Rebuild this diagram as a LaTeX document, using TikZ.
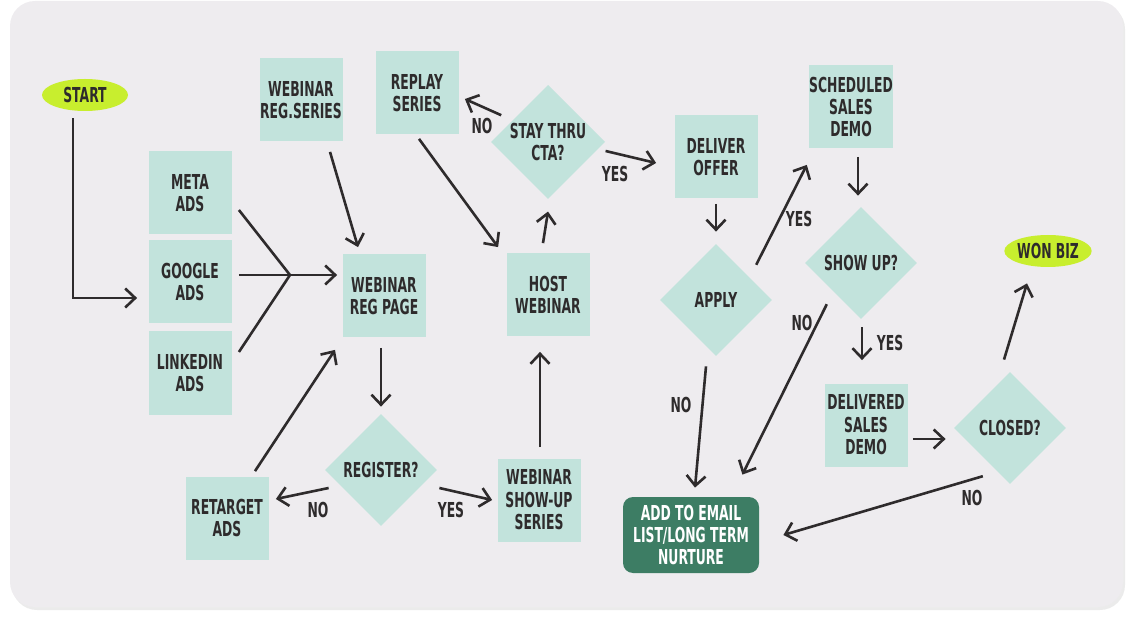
\documentclass[tikz,border=0pt]{standalone}
\usepackage{fontspec}
\setmainfont{DejaVu Sans}[FakeStretch=0.6]
\usetikzlibrary{calc,positioning,shapes.geometric,arrows.meta,shadows}
\definecolor{panelgray}{HTML}{EEECEF}
\definecolor{stickyteal}{HTML}{C2E3DC}
\definecolor{limegreen}{HTML}{C8EE2E}
\definecolor{nurturegreen}{HTML}{3D7D64}
\definecolor{inkgray}{HTML}{2E2B2C}
\tikzset{
  card/.style={
    fill=stickyteal,
    minimum width=41.5pt,
    minimum height=41.5pt,
    inner sep=0pt,
    text=inkgray,
    font=\fontsize{10.3}{11.2}\selectfont\bfseries,
    align=center
  },
  decision/.style={
    diamond,
    fill=stickyteal,
    minimum width=56pt,
    minimum height=56pt,
    inner sep=0pt,
    text=inkgray,
    font=\fontsize{10.3}{11.2}\selectfont\bfseries,
    align=center
  },
  terminal/.style={ellipse, fill=limegreen, minimum width=43pt, minimum height=16pt,
    inner sep=0pt, text=inkgray, font=\fontsize{10.3}{11.2}\selectfont\bfseries},
  lbl/.style={font=\fontsize{10.3}{11.2}\selectfont\bfseries, text=inkgray, inner sep=0pt},
  arr/.style={draw=inkgray, line width=1.3pt, -{Straight Barb[length=5pt,width=9.5pt,line width=1.3pt]}},
  link/.style={draw=inkgray, line width=1.3pt},
}

\begin{document}
\begin{tikzpicture}[x=0.5pt, y=-0.5pt]
  \useasboundingbox (0,0) rectangle (1134,630);
  \fill[panelgray, rounded corners=12.5pt,
    drop shadow={shadow xshift=1pt, shadow yshift=-1.5pt, opacity=0.08, fill=black}]
    (10,1) rectangle (1123,607);

  % start and lead sources
  \node[terminal] (start) at (85,95) {START};
  \foreach \nm/\txt/\yy in {metaads/META\\ADS/193, googleads/GOOGLE\\ADS/282, linkedinads/LINKEDIN\\ADS/373} {
    \node[card] (\nm) at (190,\yy) {\txt};
  }
  \coordinate (adsjoin) at (290,275);

  % registration
  \node[card] (regseries) at (301,100) {WEBINAR\\REG.SERIES};
  \node[card] (regpage) at (384,296) {WEBINAR\\REG PAGE};
  \node[decision] (register) at (381,470) {REGISTER?};
  \node[card] (retarget) at (227,518) {RETARGET\\ADS};
  \node[card] (showupseries) at (539,500) {WEBINAR\\SHOW-UP\\SERIES};

  % webinar
  \node[card] (host) at (548,295) {HOST\\WEBINAR};
  \node[decision] (staythru) at (548,142) {STAY THRU\\CTA?};
  \node[card] (replay) at (417,93) {REPLAY\\SERIES};

  % offer and sales
  \node[card] (deliver) at (716,157) {DELIVER\\OFFER};
  \node[decision] (apply) at (716,300) {APPLY};
  \node[card] (scheduled) at (851,107) {SCHEDULED\\SALES\\DEMO};
  \node[decision] (showup) at (861,263) {SHOW UP?};
  \node[card] (delivered) at (866,425) {DELIVERED\\SALES\\DEMO};
  \node[decision] (closed) at (1010,428) {CLOSED?};
  \node[terminal] (wonbiz) at (1048,251) {WON BIZ};
  \node[card, fill=nurturegreen, text=white, minimum width=68pt, minimum height=38pt,
    rounded corners=5pt] (nurture) at (691,535) {ADD TO EMAIL\\LIST/LONG TERM\\NURTURE};

  % connectors
  \draw[arr] ($(start.south)+(-12,7)$) |- ($(googleads.west)+(-11,16)$);
  \draw[link] ($(metaads.east)+(7,17)$) -- (adsjoin);
  \draw[link] ($(googleads.east)+(7,-7)$) -- (adsjoin);
  \draw[link] ($(linkedinads.east)+(7,-21)$) -- (adsjoin);
  \draw[arr] (adsjoin) -- ($(regpage.west)+(-5,-21)$);
  \draw[arr] ($(regseries.south)+(29,10)$) -- ($(regpage.north)+(-26,-7)$);
  \draw[arr] ($(regpage.south)+(-3,10)$) -- ($(register.north)+(0,-7)$);
  \draw[arr] ($(register.west)+(4,18)$) -- ($(retarget.east)+(7,-19)$);
  \draw[arr] ($(retarget.north)+(28,-5)$) -- ($(regpage.south)+(-49,12)$);
  \draw[arr] ($(register.east)+(2,18)$) -- ($(showupseries.west)+(-5,0)$);
  \draw[arr] ($(showupseries.north)+(1,-11)$) -- ($(host.south)+(-8,15)$);
  \draw[arr] ($(host.north)+(-5,-10)$) -- ($(staythru.south)+(0,12)$);
  \draw[arr] ($(staythru.north west)+(-18,2)$) -- ($(replay.east)+(6,6)$);
  \draw[arr] ($(replay.south)+(2,4)$) -- ($(host.north west)+(-8,-6)$);
  \draw[arr] ($(staythru.east)+(0,9)$) -- ($(deliver.west)+(-18,6)$);
  \draw[arr] ($(deliver.south)+(0,5)$) -- ($(apply.north)+(0,-12)$);
  \draw[arr] ($(apply.south)+(-10,10)$) -- ($(nurture.north)+(4,-9)$);
  \draw[arr] ($(apply.north east)+(12,-7)$) -- ($(scheduled.south west)+(-2,16)$);
  \draw[arr] ($(scheduled.south)+(7,8)$) -- ($(showup.north)+(-3,-11)$);
  \draw[arr] ($(showup.south)+(1,8)$) -- ($(delivered.north)+(-4,-23)$);
  \draw[arr] ($(showup.south west)+(-6,13)$) -- ($(nurture.north east)+(-17,-22)$);
  \draw[arr] ($(delivered.east)+(5,14)$) -- ($(closed.west)+(-8,11)$);
  \draw[arr] ($(closed.south west)+(1,20)$) -- ($(nurture.east)+(24,0)$);
  \draw[arr] ($(closed.north)+(-6,-12)$) -- ($(wonbiz.south)+(-21,16)$);

  % branch labels
  \node[lbl] (noretarget) at (318,510) {NO};
  \node[lbl] (yesshowup) at (451,510) {YES};
  \node[lbl] (noreplay) at (482,126) {NO};
  \node[lbl] (yesoffer) at (615,174) {YES};
  \node[lbl] (noapply) at (681,405) {NO};
  \node[lbl] (yesapply) at (799,219) {YES};
  \node[lbl] (yesdemo) at (890,343) {YES};
  \node[lbl] (noshow) at (802,323) {NO};
  \node[lbl] (noclosed) at (972,498) {NO};
\end{tikzpicture}
\end{document}
